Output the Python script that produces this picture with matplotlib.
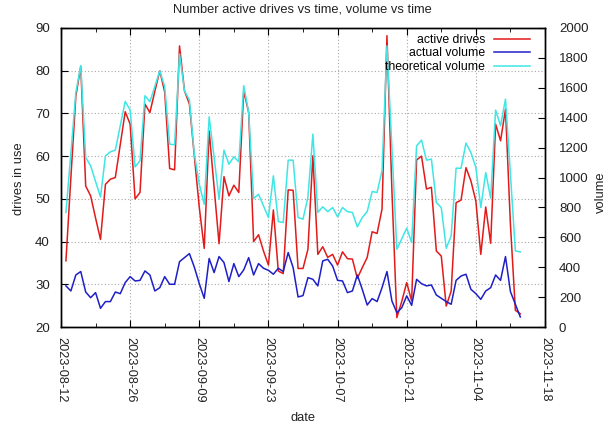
import pandas as pd
import matplotlib
matplotlib.use("Agg")
import matplotlib.pyplot as plt
from matplotlib import dates

plt.rcParams['font.family'] = ['Liberation Sans', 'DejaVu Sans']
plt.rcParams['font.size'] = 8.7

# daily samples, 2023-08-13 .. 2023-11-13
days = pd.date_range('2023-08-13', periods=93, freq='D')

active_drives = [
    35.5, 55, 74, 81, 53, 50.7, 45.5, 40.5, 53.4, 54.6,
    55, 62.7, 70.4, 67.5, 50, 51.5, 72.2, 70.2, 75.2, 80,
    75, 57.1, 56.8, 85.8, 75.3, 72.2, 60, 48, 38.4, 65.9,
    52.7, 39.5, 55.2, 50.7, 53.2, 51.5, 75.3, 70.2, 40, 41.6,
    37.8, 34.5, 47.4, 33.1, 32.5, 52.1, 52, 33.7, 33.7, 38.2,
    60.1, 37, 38.8, 36.3, 37, 34.5, 37.6, 36, 35.9, 31.4,
    33.9, 36.3, 42.3, 41.9, 47.6, 88.2, 52, 22.2, 26, 30.4,
    26.1, 59.1, 60, 52.3, 52.7, 37.8, 36.6, 24.9, 28.4, 49.1,
    49.7, 57.3, 54.2, 49.5, 37, 48.1, 39.6, 67.5, 63.6, 71,
    44, 23.9, 23.1,
]

actual_volume = [
    275, 241, 348, 371, 234, 196, 230, 125, 170, 170,
    234, 223, 297, 337, 308, 312, 375, 348, 241, 263,
    337, 286, 286, 437, 464, 491, 400, 290, 192, 458,
    364, 471, 431, 304, 424, 337, 382, 464, 348, 424,
    393, 379, 353, 393, 371, 498, 397, 201, 210, 330,
    319, 275, 442, 453, 408, 312, 308, 230, 241, 348,
    252, 147, 190, 170, 263, 371, 174, 96, 129, 208,
    145, 319, 290, 275, 281, 214, 192, 170, 152, 312,
    341, 353, 252, 223, 185, 241, 263, 348, 312, 471,
    237, 152, 67,
]

theoretical_volume = [
    766, 1163, 1568, 1748, 1134, 1078, 973, 870, 1145, 1172,
    1183, 1346, 1509, 1451, 1071, 1112, 1547, 1507, 1609, 1714,
    1607, 1223, 1219, 1826, 1580, 1518, 1156, 955, 821, 1406,
    1134, 855, 1183, 1089, 1138, 1105, 1614, 1435, 859, 888,
    810, 732, 1011, 705, 699, 1116, 1116, 732, 721, 870,
    1290, 766, 804, 772, 799, 737, 799, 772, 766, 670,
    732, 772, 906, 900, 1045, 1880, 1200, 520, 590, 661,
    565, 1212, 1250, 1116, 1123, 833, 799, 527, 609, 1062,
    1062, 1230, 1167, 1067, 799, 1033, 862, 1451, 1346, 1524,
    1022, 509, 502,
]

x_start = pd.Timestamp('2023-08-12')
x_end = pd.Timestamp('2023-11-18')

fig = plt.figure(figsize=(6.15, 4.25), dpi=100)
ax = fig.add_axes([61 / 615, 1 - 327 / 425, 484 / 615, 299 / 425])

ax.plot(days, active_drives, color='#e31a1a', lw=1.1, label='active drives')
ax.set_xlim(x_start, x_end)
ax.set_ylim(20, 90)
ax.set_yticks(range(20, 91, 10))

ax.set_xticks(pd.date_range(x_start, x_end, freq='14D'))
ax.set_xticks(pd.date_range(x_start, x_end, freq='7D'), minor=True)
ax.xaxis.set_major_formatter(dates.DateFormatter('%Y-%m-%d'))
for lab in ax.get_xticklabels():
    lab.set_rotation(270)
    lab.set_ha('center')
    lab.set_va('top')

ax.grid(which='major', linestyle=(0, (1, 2)), color='#a8a8a8', lw=0.8)
ax.set_axisbelow(True)
ax.tick_params(which='both', direction='in', top=True, right=True, colors='black')
ax.tick_params(which='major', length=5, pad=8)
ax.tick_params(which='minor', length=3)
ax.tick_params(axis='y', labelsize=9.5, labelcolor='#222222')
ax.tick_params(axis='x', labelsize=9.2, labelcolor='#222222', pad=7)

ax2 = ax.twinx()
ax2.plot(days, actual_volume, color='#1f1fc8', lw=1.1, label='actual volume')
ax2.plot(days, theoretical_volume, color='#3fe6e6', lw=1.1, label='theoretical volume')
ax2.set_ylim(0, 2000)
ax2.set_yticks(range(0, 2001, 200))
ax2.tick_params(direction='in', length=5, pad=10, labelsize=9.5, labelcolor='#222222')

for a in (ax, ax2):
    for sp in a.spines.values():
        sp.set_linewidth(1.0)
        sp.set_color('black')

h1, l1 = ax.get_legend_handles_labels()
h2, l2 = ax2.get_legend_handles_labels()
leg = ax2.legend(h1 + h2, l1 + l2, loc='upper right', frameon=False,
                 markerfirst=False, handlelength=3.0, handletextpad=0.7,
                 labelspacing=0.12, borderpad=0, borderaxespad=0,
                 bbox_to_anchor=(0.97, 0.98), fontsize=8.8)
for col in leg._legend_handle_box.get_children():
    col.align = 'right'

fig.text(302 / 615, 1 - 10 / 425, 'Number active drives vs time, volume vs time',
         ha='center', va='center', fontsize=9.3, color='#222222')
fig.text(19 / 615, 1 - 179 / 425, 'drives in use', rotation=90,
         ha='center', va='center', fontsize=9.3, color='#222222')
fig.text(601 / 615, 1 - 192 / 425, 'volume', rotation=90,
         ha='center', va='center', fontsize=9.3, color='#222222')
fig.text(303 / 615, 1 - 418 / 425, 'date', ha='center', va='center',
         fontsize=9.3, color='#222222')

fig.savefig('out.png', dpi=100)
